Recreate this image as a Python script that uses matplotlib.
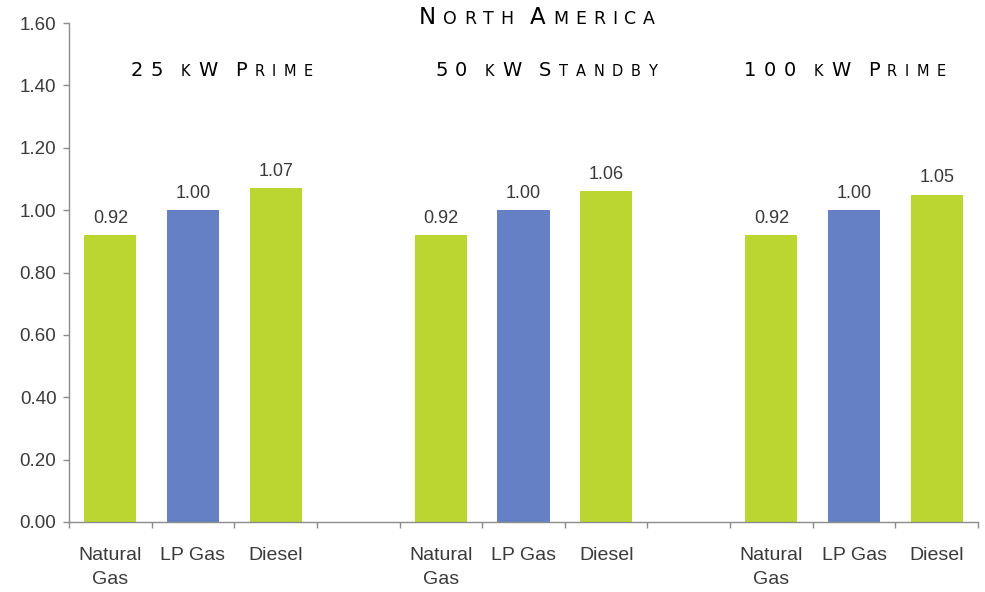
import matplotlib
matplotlib.use("Agg")
import matplotlib.pyplot as plt
import numpy as np
from matplotlib.offsetbox import TextArea, HPacker, AnnotationBbox

# ---- data ----
title = "North America"
groups = ["25 kW Prime", "50 kW Standby", "100 kW Prime"]
fuels = ["Natural\nGas", "LP Gas", "Diesel"]
values_25kw = [0.92, 1.00, 1.07]
values_50kw = [0.92, 1.00, 1.06]
values_100kw = [0.92, 1.00, 1.05]
yticks = [0.00, 0.20, 0.40, 0.60, 0.80, 1.00, 1.20, 1.40, 1.60]

GREEN = "#bbd531"
BLUE = "#6680c6"
fuel_colors = [GREEN, BLUE, GREEN]
TEXT = "#3a3a3a"
AXIS = "#8c8c8c"

W, H = 985, 592
fig = plt.figure(figsize=(W / 100, H / 100), dpi=100)
ax = fig.add_axes([69 / W, (H - 522) / H, (978 - 69) / W, (522 - 23) / H])

all_values = [values_25kw, values_50kw, values_100kw]
slot = 0
centers, labels = [], []
for gi, vals in enumerate(all_values):
    for fi, v in enumerate(vals):
        ax.bar(slot, v, width=0.63, color=fuel_colors[fi], zorder=2)
        ax.annotate(f"{v:.2f}", (slot, v), xytext=(0, 9), textcoords="offset points",
                    ha="center", va="baseline", fontsize=13, color=TEXT,
                    family="Liberation Sans")
        centers.append(slot)
        labels.append(fuels[fi])
        slot += 1
    if gi < len(all_values) - 1:
        slot += 1  # empty slot between groups

n_slots = slot
ax.set_xlim(-0.5, n_slots - 0.5)
ax.set_ylim(0, 1.6)

ax.set_xticks(centers)
ax.set_xticklabels(labels, fontsize=14, color=TEXT, family="Liberation Sans",
                   linespacing=1.5, va="top")
ax.set_xticks(np.arange(-0.5, n_slots, 1.0), minor=True)
ax.tick_params(axis="x", which="major", length=0, pad=18)
ax.tick_params(axis="x", which="minor", length=4, color=AXIS, width=1)

ax.set_yticks(yticks)
ax.set_yticklabels([f"{t:.2f}" for t in yticks], fontsize=13.5, color=TEXT,
                   family="Liberation Sans")
ax.tick_params(axis="y", length=4, color=AXIS, width=1, pad=5)

for s in ["top", "right"]:
    ax.spines[s].set_visible(False)
for s in ["left", "bottom"]:
    ax.spines[s].set_color(AXIS)
    ax.spines[s].set_linewidth(1)


def small_caps(text, xy, big, small, sep):
    """Draw text in small capitals centred at xy (figure fraction)."""
    parts = []
    for ch in text:
        if ch == " ":
            parts.append(TextArea(" ", textprops=dict(size=small * 0.5, family="DejaVu Sans")))
        elif ch.isupper() or ch.isdigit():
            parts.append(TextArea(ch, textprops=dict(size=big, family="DejaVu Sans",
                                                     color="black")))
        else:
            parts.append(TextArea(ch.upper(), textprops=dict(size=small, family="DejaVu Sans",
                                                             color="black")))
    box = HPacker(children=parts, align="baseline", pad=0, sep=sep)
    ab = AnnotationBbox(box, xy, xycoords="figure fraction", frameon=False,
                        box_alignment=(0.5, 0.5), pad=0)
    fig.add_artist(ab)


small_caps(title, (537 / W, 1 - 17 / H), 16.5, 12.5, 5.0)
sub_x = [222, 546, 845]
for g, x in zip(groups, sub_x):
    small_caps(g, (x / W, 1 - 70 / H), 14, 10.5, 5.5)

fig.savefig("out.png", dpi=100)
